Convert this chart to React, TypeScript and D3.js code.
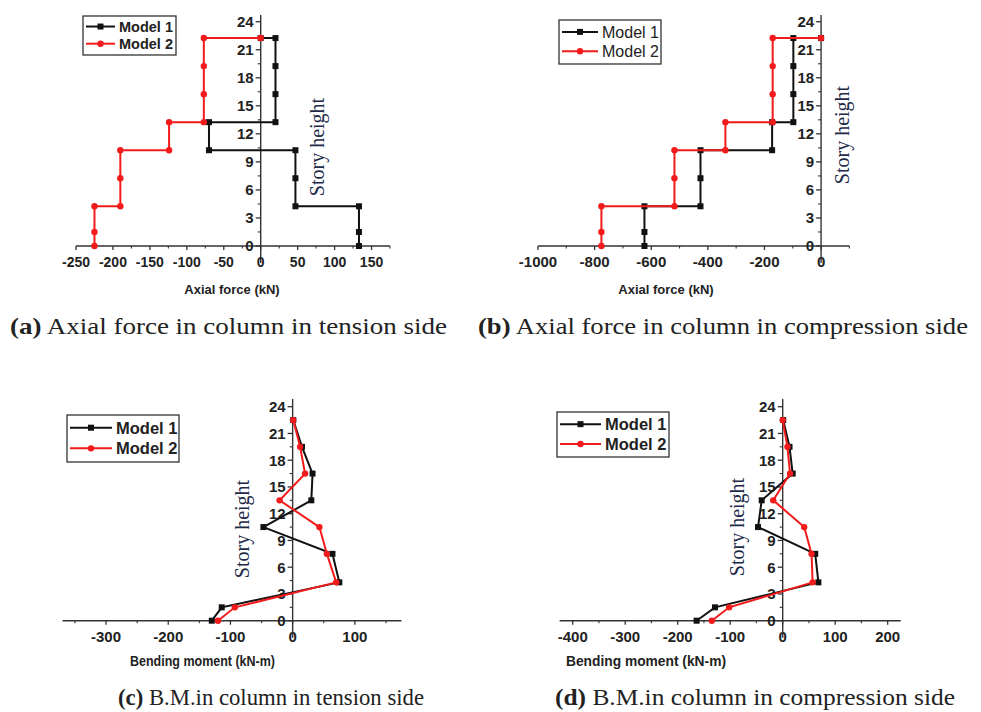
import React from "react";
import * as d3 from "d3";

// story levels (y) for each panel
const storyStep = [0, 1.5, 4.25, 4.25, 7.25, 10.25, 10.25, 13.25, 13.25, 16.25, 19.25, 22.25, 22.25];
const storyBM = [0, 1.5, 4.3, 7.5, 10.5, 13.5, 16.5, 19.5, 22.5];

// (a) axial force, tension side
const axialTensionM1 = [133, 133, 133, 47, 47, 47, -70, -70, 20, 20, 20, 20, 0];
const axialTensionM2 = [-225, -225, -225, -190, -190, -190, -124, -124, -77, -77, -77, -77, 0];
// (b) axial force, compression side
const axialCompM1 = [-624, -624, -624, -426, -426, -426, -173, -173, -98, -98, -98, -98, 0];
const axialCompM2 = [-776, -776, -776, -518, -518, -518, -338, -338, -171, -171, -171, -171, 0];
// (c) bending moment, tension side
const bmTensionM1 = [-130, -114, 75, 64, -47, 30, 32, 15, 1];
const bmTensionM2 = [-120, -93, 70, 55, 43, -21, 20, 12, 1];
// (d) bending moment, compression side
const bmCompM1 = [-164, -129, 68, 62, -47, -40, 19, 13, 1];
const bmCompM2 = [-135, -102, 57, 55, 41, -18, 14, 9, 0];

const yTicks = [0, 3, 6, 9, 12, 15, 18, 21, 24];
const ticksA = [-250, -200, -150, -100, -50, 0, 50, 100, 150];
const ticksB = [-1000, -800, -600, -400, -200, 0];
const ticksC = [-300, -200, -100, 0, 100];
const ticksD = [-400, -300, -200, -100, 0, 100, 200];
const seriesNames = ["Model 1", "Model 2"];

const SANS = "'Liberation Sans', Arial, sans-serif";
const SERIF = "'Liberation Serif', 'Times New Roman', serif";
const BLACK = "#111";
const RED = "#f21a1a";

type Cfg = {
  xDomain: [number, number];
  xRange: [number, number];
  y0: number;
  y24: number;
  yTop: number;
  ticks: number[];
  minorStep: number;
  tickSize: number;
  legend: { x: number; y: number; w: number; h: number; lineW: number; bold: boolean; size: number };
  story: { x: number; y: number };
};

function Panel({ cfg, m1, m2, ys }: { cfg: Cfg; m1: number[]; m2: number[]; ys: number[] }) {
  const x = d3.scaleLinear().domain(cfg.xDomain).range(cfg.xRange);
  const y = d3.scaleLinear().domain([0, 24]).range([cfg.y0, cfg.y24]);
  const line = d3
    .line<[number, number]>()
    .x((d) => x(d[0]))
    .y((d) => y(d[1]));
  const p1 = m1.map((v, i) => [v, ys[i]] as [number, number]);
  const p2 = m2.map((v, i) => [v, ys[i]] as [number, number]);

  const minorX: number[] = [];
  for (let v = cfg.ticks[0] - cfg.minorStep; v <= cfg.xDomain[1]; v += cfg.minorStep) {
    if (v >= cfg.xDomain[0] && !cfg.ticks.includes(v)) minorX.push(v);
  }
  const minorY = yTicks.slice(0, -1).map((t) => t + 1.5);
  const ax = x(0);
  const lg = cfg.legend;

  return (
    <g>
      {/* x axis */}
      <line x1={cfg.xRange[0]} x2={cfg.xRange[1]} y1={cfg.y0} y2={cfg.y0} stroke="#333" strokeWidth={1.4} />
      {cfg.ticks.map((t) => (
        <g key={"xt" + t}>
          <line x1={x(t)} x2={x(t)} y1={cfg.y0} y2={cfg.y0 + 4} stroke="#333" strokeWidth={1.3} />
          <text x={x(t)} y={cfg.y0 + 21} textAnchor="middle" fontFamily={SANS} fontWeight="bold" fontSize={cfg.tickSize} fill="#222">
            {t}
          </text>
        </g>
      ))}
      {minorX.map((t) => (
        <line key={"xm" + t} x1={x(t)} x2={x(t)} y1={cfg.y0} y2={cfg.y0 + 2.5} stroke="#333" strokeWidth={1.1} />
      ))}
      {/* y axis */}
      <line x1={ax} x2={ax} y1={cfg.yTop} y2={cfg.y0 + 17} stroke="#333" strokeWidth={1.4} />
      {yTicks.map((t) => (
        <g key={"yt" + t}>
          <line x1={ax - 5} x2={ax} y1={y(t)} y2={y(t)} stroke="#333" strokeWidth={1.3} />
          <text x={ax - 7} y={y(t)} dy="0.36em" textAnchor="end" fontFamily={SANS} fontWeight="bold" fontSize={15} fill="#222">
            {t}
          </text>
        </g>
      ))}
      {minorY.map((t) => (
        <line key={"ym" + t} x1={ax - 3} x2={ax} y1={y(t)} y2={y(t)} stroke="#333" strokeWidth={1.1} />
      ))}
      {/* story height label */}
      <text
        transform={`translate(${cfg.story.x},${cfg.story.y}) rotate(-90)`}
        textAnchor="middle"
        dy="0.35em"
        fontFamily={SERIF}
        fontSize={20}
        fill="#1d2947"
      >
        Story height
      </text>
      {/* series */}
      <path d={line(p1) || ""} fill="none" stroke={BLACK} strokeWidth={2} />
      {p1.map((d, i) => (
        <rect key={"b" + i} x={x(d[0]) - 3} y={y(d[1]) - 3} width={6} height={6} fill={BLACK} />
      ))}
      <path d={line(p2) || ""} fill="none" stroke={RED} strokeWidth={2} />
      {p2.map((d, i) => (
        <circle key={"r" + i} cx={x(d[0])} cy={y(d[1])} r={3.2} fill={RED} />
      ))}
      {/* legend */}
      <rect x={lg.x} y={lg.y} width={lg.w} height={lg.h} fill="#fff" stroke="#333" strokeWidth={1.3} />
      {seriesNames.map((name, i) => {
        const cy = lg.y + lg.h * (i === 0 ? 0.27 : 0.71);
        const c = i === 0 ? BLACK : RED;
        const lx0 = lg.x + 3;
        const lx1 = lx0 + lg.lineW;
        return (
          <g key={name}>
            <line x1={lx0} x2={lx1} y1={cy} y2={cy} stroke={c} strokeWidth={2} />
            {i === 0 ? (
              <rect x={(lx0 + lx1) / 2 - 3} y={cy - 3} width={6} height={6} fill={c} />
            ) : (
              <circle cx={(lx0 + lx1) / 2} cy={cy} r={3.2} fill={c} />
            )}
            <text x={lx1 + 4} y={cy} dy="0.36em" fontFamily={SANS} fontWeight={lg.bold ? "bold" : "normal"} fontSize={lg.size} fill="#222">
              {name}
            </text>
          </g>
        );
      })}
    </g>
  );
}

const cfgA: Cfg = {
  xDomain: [-250, 175],
  xRange: [76, 390],
  y0: 246,
  y24: 21.7,
  yTop: 15,
  ticks: ticksA,
  minorStep: 25,
  tickSize: 14,
  legend: { x: 83, y: 16, w: 93, h: 39, lineW: 29, bold: true, size: 14.5 },
  story: { x: 317, y: 147 },
};
const cfgB: Cfg = {
  xDomain: [-1000, 100],
  xRange: [538, 849.4],
  y0: 246,
  y24: 21.7,
  yTop: 15,
  ticks: ticksB,
  minorStep: 100,
  tickSize: 15,
  legend: { x: 559, y: 20, w: 102, h: 44, lineW: 36, bold: false, size: 16 },
  story: { x: 842, y: 135 },
};
const cfgC: Cfg = {
  xDomain: [-370, 175],
  xRange: [62.5, 401.5],
  y0: 620.7,
  y24: 406.7,
  yTop: 399,
  ticks: ticksC,
  minorStep: 50,
  tickSize: 15,
  legend: { x: 67, y: 415, w: 112, h: 47, lineW: 42, bold: true, size: 16.5 },
  story: { x: 242, y: 529 },
};
const cfgD: Cfg = {
  xDomain: [-425, 225],
  xRange: [559.6, 900.8],
  y0: 620.7,
  y24: 406.7,
  yTop: 399,
  ticks: ticksD,
  minorStep: 50,
  tickSize: 15,
  legend: { x: 557, y: 412, w: 112, h: 45, lineW: 41, bold: true, size: 16.5 },
  story: { x: 737, y: 527 },
};

function Caption({ x, y, w, tag, rest, size }: { x: number; y: number; w: number; tag: string; rest: string; size: number }) {
  return (
    <text x={x} y={y} fontFamily={SERIF} fontSize={size} fill="#222" textLength={w} lengthAdjust="spacingAndGlyphs">
      <tspan fontWeight="bold">{tag}</tspan>
      <tspan>{rest}</tspan>
    </text>
  );
}

export default function App() {
  return (
    <svg width={981} height={712} style={{ position: "absolute", left: 0, top: 0, background: "#fff" }}>
      <rect width={981} height={712} fill="#fff" />
      <Panel cfg={cfgA} m1={axialTensionM1} m2={axialTensionM2} ys={storyStep} />
      <Panel cfg={cfgB} m1={axialCompM1} m2={axialCompM2} ys={storyStep} />
      <Panel cfg={cfgC} m1={bmTensionM1} m2={bmTensionM2} ys={storyBM} />
      <Panel cfg={cfgD} m1={bmCompM1} m2={bmCompM2} ys={storyBM} />

      <text x={232} y={294} textAnchor="middle" fontFamily={SANS} fontWeight="bold" fontSize={13} fill="#222">
        Axial force (kN)
      </text>
      <text x={666} y={294} textAnchor="middle" fontFamily={SANS} fontWeight="bold" fontSize={13} fill="#222">
        Axial force (kN)
      </text>
      <text x={130} y={666} fontFamily={SANS} fontWeight="bold" fontSize={14} fill="#222" textLength={145} lengthAdjust="spacingAndGlyphs">
        Bending moment (kN-m)
      </text>
      <text x={566} y={666} fontFamily={SANS} fontWeight="bold" fontSize={14} fill="#222" textLength={160} lengthAdjust="spacingAndGlyphs">
        Bending moment (kN-m)
      </text>

      <Caption x={10} y={334} w={437} tag="(a)" rest=" Axial force in column in tension side" size={23} />
      <Caption x={478} y={334} w={490} tag="(b)" rest=" Axial force in column in compression side" size={23} />
      <Caption x={118} y={705} w={306} tag="(c)" rest=" B.M.in column in tension side" size={24} />
      <Caption x={555} y={705} w={400} tag="(d)" rest=" B.M.in column in compression side" size={24} />
    </svg>
  );
}
